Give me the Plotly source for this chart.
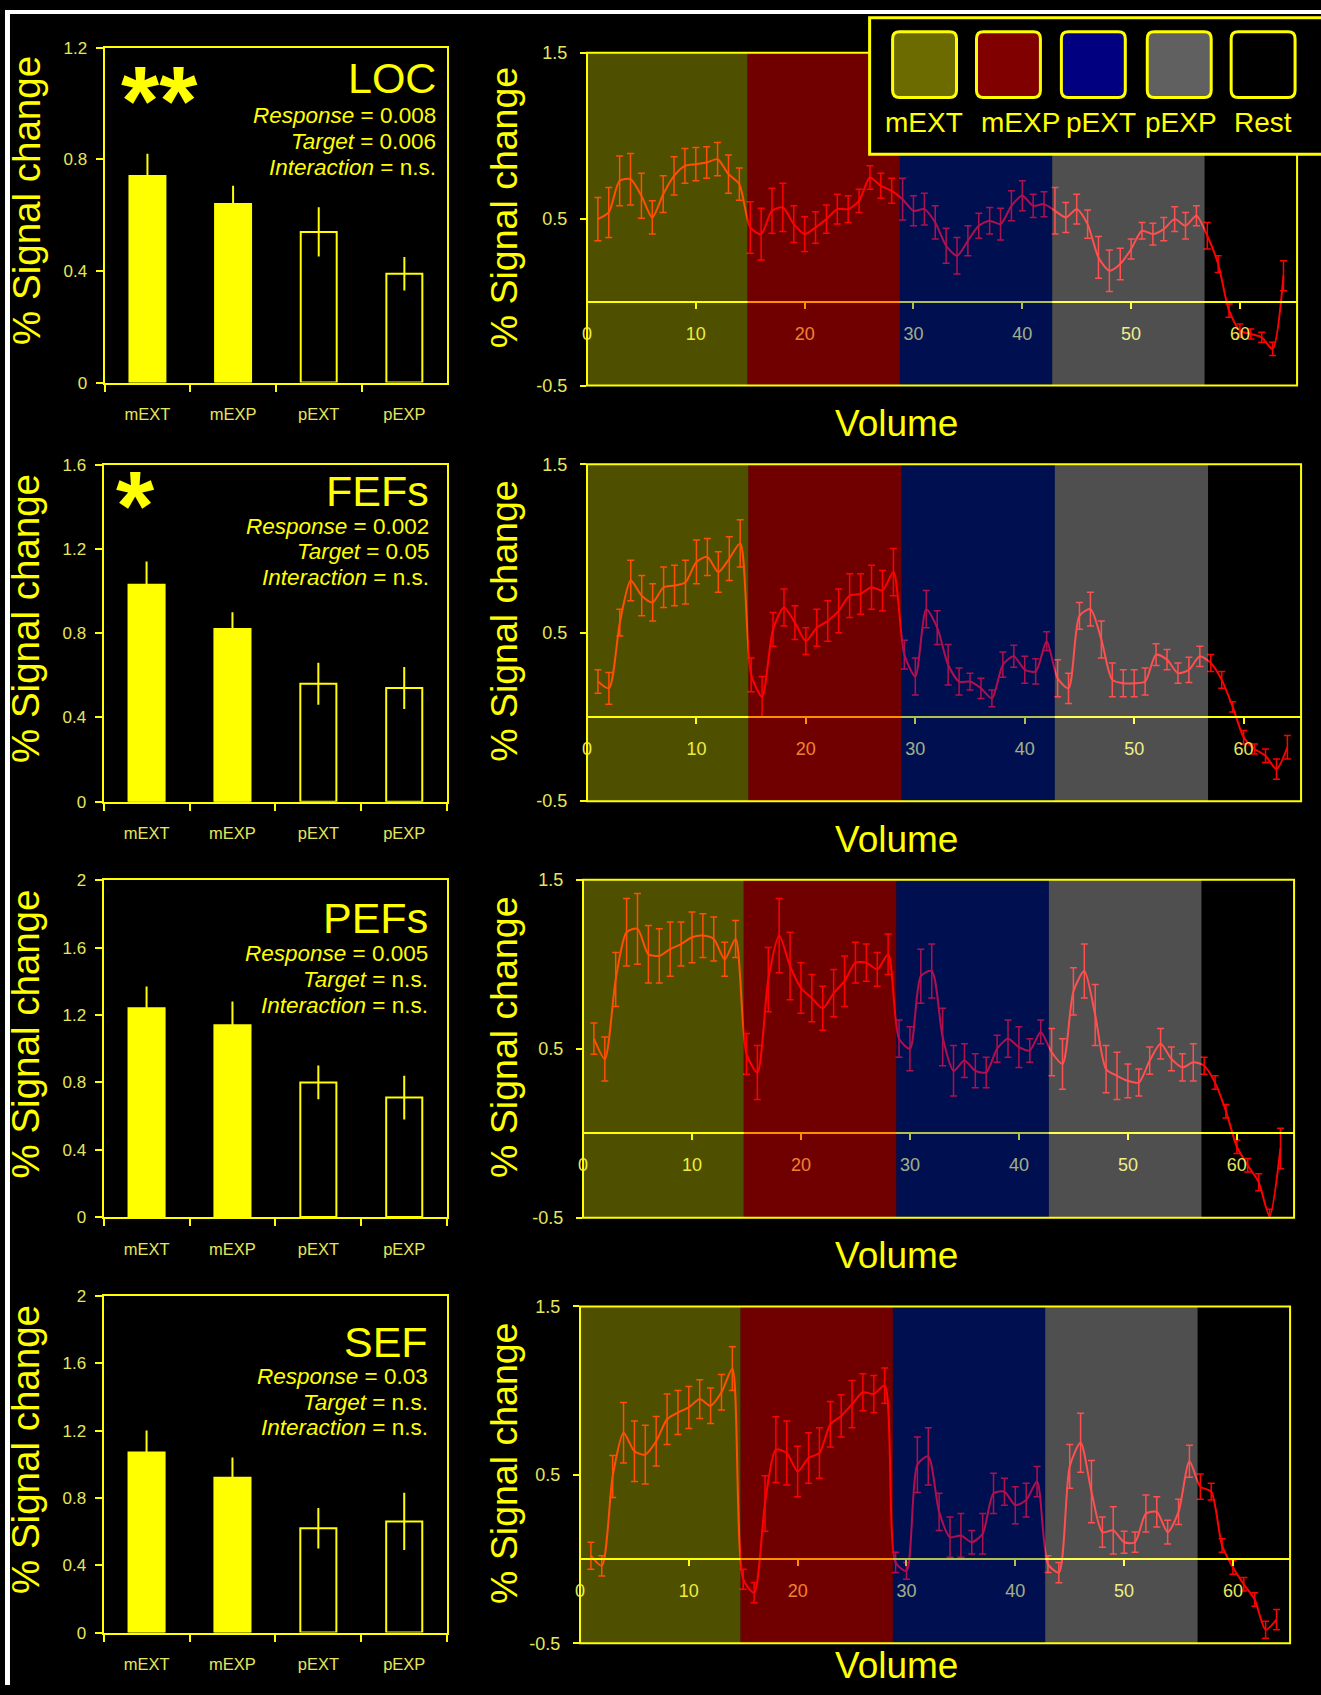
import plotly.graph_objects as go

W, H = 1321, 1695
FONT = "Liberation Sans, Arial, sans-serif"
YEL = "#FFFF00"
TICK_YEL = "#E6E65A"

# ---------------- data ----------------
categories = ["mEXT", "mEXP", "pEXT", "pEXP"]
regions = ["LOC", "FEFs", "PEFs", "SEF"]

loc_bar = [0.74, 0.64, 0.54, 0.39]
loc_bar_err = [0.08, 0.065, 0.088, 0.06]
fef_bar = [1.03, 0.82, 0.56, 0.54]
fef_bar_err = [0.11, 0.08, 0.10, 0.10]
pef_bar = [1.24, 1.14, 0.80, 0.71]
pef_bar_err = [0.13, 0.14, 0.10, 0.13]
sef_bar = [1.07, 0.92, 0.62, 0.66]
sef_bar_err = [0.13, 0.12, 0.12, 0.17]
bar_ymax = [1.2, 1.6, 2.0, 2.0]

stars = ["**", "*", "", ""]
response_p = ["0.008", "0.002", "0.005", "0.03"]
target_p = ["0.006", "0.05", "n.s.", "n.s."]
interaction_p = ["n.s.", "n.s.", "n.s.", "n.s."]

volumes = list(range(1, 65))
block_names = ["mEXT", "mEXP", "pEXT", "pEXP", "Rest"]
block_edges = [0, 14.75, 28.75, 42.75, 56.75]
ts_ytick_vals = [-0.5, 0.5, 1.5]
ts_ytick_text = ["-0.5", "0.5", "1.5"]

loc_ts = [0.50, 0.54, 0.73, 0.74, 0.64, 0.51, 0.65, 0.76, 0.82, 0.83, 0.84, 0.86, 0.77, 0.71,
          0.45, 0.41, 0.55, 0.57, 0.47, 0.41, 0.45, 0.50, 0.56, 0.56, 0.61, 0.75, 0.70, 0.67,
          0.62, 0.55, 0.56, 0.48, 0.34, 0.28, 0.37, 0.46, 0.49, 0.47, 0.58, 0.64, 0.58, 0.59,
          0.55, 0.51, 0.56, 0.47, 0.27, 0.19, 0.23, 0.32, 0.43, 0.41, 0.44, 0.50, 0.46, 0.52,
          0.40, 0.23, -0.05, -0.17, -0.19, -0.21, -0.28, 0.16]
loc_ts_err = [0.13, 0.15, 0.15, 0.155, 0.135, 0.10, 0.11, 0.115, 0.105, 0.10, 0.095, 0.10, 0.115, 0.097,
              0.155, 0.155, 0.135, 0.145, 0.11, 0.105, 0.095, 0.085, 0.09, 0.08, 0.07, 0.07, 0.075, 0.075,
              0.125, 0.09, 0.095, 0.10, 0.105, 0.11, 0.09, 0.075, 0.08, 0.095, 0.09, 0.09, 0.07, 0.075,
              0.14, 0.09, 0.09, 0.085, 0.125, 0.125, 0.095, 0.06, 0.05, 0.065, 0.07, 0.075, 0.08, 0.06,
              0.08, 0.05, 0.04, 0.04, 0.03, 0.03, 0.04, 0.09]

fef_ts = [0.21, 0.17, 0.56, 0.81, 0.72, 0.68, 0.77, 0.78, 0.80, 0.92, 0.95, 0.86, 0.94, 1.03,
          0.25, 0.12, 0.52, 0.65, 0.56, 0.45, 0.53, 0.57, 0.63, 0.72, 0.73, 0.77, 0.75, 0.86,
          0.37, 0.24, 0.64, 0.53, 0.31, 0.21, 0.21, 0.17, 0.11, 0.31, 0.36, 0.28, 0.27, 0.45,
          0.23, 0.17, 0.60, 0.64, 0.46, 0.22, 0.20, 0.20, 0.21, 0.37, 0.34, 0.26, 0.28, 0.36,
          0.32, 0.22, 0.06, -0.12, -0.19, -0.23, -0.31, -0.18]
fef_ts_err = [0.07, 0.094, 0.08, 0.12, 0.12, 0.11, 0.12, 0.12, 0.13, 0.13, 0.11, 0.12, 0.13, 0.14,
              0.10, 0.12, 0.10, 0.11, 0.10, 0.08, 0.11, 0.12, 0.13, 0.13, 0.12, 0.13, 0.12, 0.14,
              0.085, 0.11, 0.11, 0.10, 0.12, 0.08, 0.05, 0.06, 0.05, 0.075, 0.065, 0.08, 0.075, 0.055,
              0.11, 0.09, 0.08, 0.10, 0.11, 0.10, 0.08, 0.08, 0.08, 0.065, 0.06, 0.06, 0.075, 0.06,
              0.05, 0.05, 0.03, 0.04, 0.03, 0.04, 0.06, 0.07]

pef_ts = [0.56, 0.44, 0.91, 1.19, 1.21, 1.06, 1.05, 1.09, 1.12, 1.16, 1.17, 1.15, 1.03, 1.15,
          0.47, 0.36, 0.91, 1.17, 0.99, 0.86, 0.80, 0.74, 0.83, 0.90, 1.01, 1.01, 0.97, 1.06,
          0.56, 0.50, 0.93, 0.96, 0.57, 0.37, 0.43, 0.37, 0.36, 0.50, 0.56, 0.51, 0.49, 0.60,
          0.48, 0.41, 0.84, 0.96, 0.70, 0.38, 0.34, 0.31, 0.30, 0.43, 0.53, 0.44, 0.39, 0.42,
          0.40, 0.30, 0.13, -0.08, -0.19, -0.29, -0.49, -0.09]
pef_ts_err = [0.093, 0.13, 0.16, 0.20, 0.21, 0.17, 0.16, 0.16, 0.13, 0.15, 0.13, 0.13, 0.10, 0.11,
              0.12, 0.16, 0.19, 0.22, 0.20, 0.15, 0.14, 0.13, 0.14, 0.15, 0.12, 0.11, 0.10, 0.12,
              0.11, 0.13, 0.16, 0.16, 0.17, 0.15, 0.10, 0.10, 0.09, 0.08, 0.11, 0.12, 0.07, 0.07,
              0.14, 0.15, 0.14, 0.16, 0.18, 0.14, 0.14, 0.10, 0.08, 0.08, 0.09, 0.07, 0.08, 0.11,
              0.05, 0.04, 0.04, 0.04, 0.04, 0.05, 0.04, 0.12]

sef_ts = [0.02, -0.04, 0.49, 0.75, 0.64, 0.62, 0.70, 0.83, 0.87, 0.90, 0.95, 0.91, 0.99, 1.13,
          -0.12, -0.20, 0.33, 0.65, 0.63, 0.52, 0.60, 0.63, 0.80, 0.85, 0.92, 0.99, 0.98, 1.03,
          -0.02, -0.07, 0.56, 0.61, 0.28, 0.13, 0.14, 0.10, 0.15, 0.39, 0.40, 0.32, 0.35, 0.46,
          -0.03, -0.08, 0.55, 0.69, 0.40, 0.16, 0.17, 0.10, 0.10, 0.27, 0.28, 0.16, 0.28, 0.58,
          0.43, 0.40, 0.08, -0.05, -0.15, -0.24, -0.42, -0.36]
sef_ts_err = [0.08, 0.06, 0.125, 0.18, 0.18, 0.175, 0.147, 0.15, 0.13, 0.125, 0.115, 0.105, 0.105, 0.13,
              0.06, 0.06, 0.165, 0.195, 0.19, 0.15, 0.15, 0.15, 0.135, 0.125, 0.14, 0.11, 0.11, 0.105,
              0.06, 0.05, 0.165, 0.17, 0.11, 0.12, 0.13, 0.07, 0.12, 0.12, 0.08, 0.11, 0.10, 0.09,
              0.05, 0.06, 0.13, 0.175, 0.185, 0.09, 0.14, 0.065, 0.06, 0.11, 0.09, 0.07, 0.075, 0.095,
              0.075, 0.05, 0.04, 0.04, 0.04, 0.04, 0.05, 0.06]

bars = [loc_bar, fef_bar, pef_bar, sef_bar]
bar_errs = [loc_bar_err, fef_bar_err, pef_bar_err, sef_bar_err]
ts = [loc_ts, fef_ts, pef_ts, sef_ts]
ts_errs = [loc_ts_err, fef_ts_err, pef_ts_err, sef_ts_err]

# ---------------- styling / layout ----------------
band_colors = ["rgba(255,255,0,0.31)", "rgba(255,0,0,0.44)",
               "rgba(0,50,255,0.31)", "rgba(255,255,255,0.31)"]
legend_colors = ["#6B6B00", "#800000", "#000080", "#606060", "#000000"]

# pixel boxes in page pixels (left, right, top, bottom)
bar_boxes = [(104, 447, 45, 381), (103, 447, 463.5, 801.5),
             (103, 447, 880.5, 1218.4), (103, 447, 1297.4, 1635.3)]
ts_boxes = [(587, 1298, 50, 384), (587, 1302, 463, 801),
            (583, 1295, 880, 1219), (580, 1291, 1308, 1646)]
TS_YR = [-0.5, 1.5]
TS_XR = [0, 65.25]

text_right = [438, 431, 430, 430]
title_y = [75, 490, 918, 1344]
line_y0 = [113, 525, 954, 1378]
star_pos = [(159, 98), (135, 505)]
leg_left = [893, 977, 1062, 1148, 1232]
leg_label_x = [924, 1021, 1102, 1182, 1264]


def cx(x):
    # small horizontal placement correction
    return x - 4 + (x - 104) * 0.0025


def cy(y):
    # small vertical placement correction
    return 850 + (y - 850) * 1.0085


def px(x):
    return cx(x) / W


def py(y):
    return 1 - cy(y) / H


fig = go.Figure()
layout = dict(
    width=W, height=H, autosize=False,
    margin=dict(l=0, r=0, t=0, b=0),
    paper_bgcolor="black", plot_bgcolor="black",
    showlegend=False,
    font=dict(family=FONT, color=YEL),
)
shapes = []
annotations = []

for i in range(4):
    bxn, byn = 2 * i + 1, 2 * i + 2
    # ---- bar chart ----
    fig.add_trace(go.Bar(
        x=categories, y=bars[i], width=0.42,
        marker=dict(color=[YEL, YEL, "#000000", "#000000"], line=dict(color=YEL, width=2)),
        error_y=dict(type="data", array=bar_errs[i], color=YEL, thickness=2, width=0),
        xaxis=f"x{bxn}", yaxis=f"y{bxn}",
    ))
    l, r, t, b = bar_boxes[i]
    layout[f"xaxis{bxn}"] = dict(
        domain=[px(l), px(r)], anchor=f"y{bxn}", type="category", range=[-0.5, 3.5],
        showline=True, mirror=True, linecolor=YEL, linewidth=2,
        ticks="outside", tickson="boundaries", ticklen=7, tickwidth=2, tickcolor=YEL,
        tickfont=dict(size=16.5, color=TICK_YEL, family=FONT), ticklabelstandoff=16,
        showgrid=False, zeroline=False,
    )
    layout[f"yaxis{bxn}"] = dict(
        domain=[py(b), py(t)], anchor=f"x{bxn}", range=[0, bar_ymax[i]], tick0=0, dtick=0.4,
        showline=True, mirror=True, linecolor=YEL, linewidth=2,
        ticks="outside", ticklen=7, tickwidth=2, tickcolor=YEL,
        tickfont=dict(size=17, color=TICK_YEL, family=FONT), ticklabelstandoff=5,
        showgrid=False, zeroline=False,
    )
    annotations.append(dict(
        x=px(25), y=py((t + b) / 2 - 15), xref="paper", yref="paper",
        text="% Signal change", textangle=-90, showarrow=False,
        font=dict(size=38.5, color=YEL, family=FONT), xanchor="center", yanchor="middle"))
    # region label and statistics
    xr = px(text_right[i])
    annotations.append(dict(x=xr, y=py(title_y[i]), xref="paper", yref="paper",
                            text=regions[i], showarrow=False, xanchor="right", yanchor="middle",
                            font=dict(size=43, color=YEL, family=FONT)))
    stat_lines = [f"<i>Response</i> = {response_p[i]}",
                  f"<i>Target</i> = {target_p[i]}",
                  f"<i>Interaction</i> = {interaction_p[i]}"]
    for k, s in enumerate(stat_lines):
        annotations.append(dict(x=xr, y=py(line_y0[i] + 26 * k), xref="paper", yref="paper",
                                text=s, showarrow=False, xanchor="right", yanchor="middle",
                                font=dict(size=22.5, color=YEL, family=FONT)))
    if stars[i]:
        sx, sy = star_pos[i]
        annotations.append(dict(x=px(sx), y=py(sy), xref="paper", yref="paper",
                                text=f"<b>{stars[i]}</b>", showarrow=False,
                                xanchor="center", yanchor="middle",
                                font=dict(size=98, color=YEL, family=FONT)))

    # ---- time series ----
    l, r, t, b = ts_boxes[i]
    fig.add_trace(go.Scatter(
        x=volumes, y=ts[i], mode="lines",
        line=dict(color="#FF0000", width=2, shape="spline", smoothing=0.7),
        error_y=dict(type="data", array=ts_errs[i], color="#FF0000", thickness=1.5, width=3.5),
        xaxis=f"x{byn}", yaxis=f"y{byn}",
    ))
    zero_px = t + (b - t) * (TS_YR[1] - 0) / (TS_YR[1] - TS_YR[0])
    layout[f"xaxis{byn}"] = dict(
        domain=[px(l), px(r)], anchor="free", position=py(zero_px), range=TS_XR,
        tick0=0, dtick=10, showline=True, linecolor=YEL, linewidth=2,
        ticks="outside", ticklen=6, tickwidth=2, tickcolor=YEL,
        tickfont=dict(size=18, color=TICK_YEL, family=FONT), ticklabelstandoff=9,
        showgrid=False, zeroline=False,
    )
    layout[f"yaxis{byn}"] = dict(
        domain=[py(b), py(t)], anchor=f"x{byn}", range=TS_YR,
        tickmode="array", tickvals=ts_ytick_vals, ticktext=ts_ytick_text,
        showline=False, ticks="outside", ticklen=6, tickwidth=2, tickcolor=YEL,
        tickfont=dict(size=18, color=TICK_YEL, family=FONT), ticklabelstandoff=9,
        showgrid=False, zeroline=False,
    )
    for j in range(4):
        shapes.append(dict(type="rect", xref=f"x{byn}", yref=f"y{byn} domain",
                           x0=block_edges[j], x1=block_edges[j + 1], y0=0, y1=1,
                           fillcolor=band_colors[j], line=dict(width=0), layer="above"))
    shapes.append(dict(type="rect", xref=f"x{byn} domain", yref=f"y{byn} domain",
                       x0=0, x1=1, y0=0, y1=1, line=dict(color=YEL, width=2),
                       fillcolor="rgba(0,0,0,0)", layer="above"))
    annotations.append(dict(
        x=px(504), y=py((t + b) / 2 - 11), xref="paper", yref="paper",
        text="% Signal change", textangle=-90, showarrow=False,
        font=dict(size=37.5, color=YEL, family=FONT), xanchor="center", yanchor="middle"))
    vol_y = min(b + 38, 1668)
    annotations.append(dict(
        x=px(897), y=py(vol_y), xref="paper", yref="paper",
        text="Volume", showarrow=False,
        font=dict(size=37, color=YEL, family=FONT), xanchor="center", yanchor="middle"))

# ---------------- legend (drawn box) ----------------
shapes.append(dict(type="rect", xref="paper", yref="paper",
                   x0=px(870), x1=1.01, y0=py(152), y1=py(15),
                   fillcolor="black", line=dict(color=YEL, width=3), layer="above"))


def rounded_path(x0, y0, x1, y1, rr):
    pts = [("M", x0 + rr, y0), ("L", x1 - rr, y0), ("Q", x1, y0, x1, y0 + rr),
           ("L", x1, y1 - rr), ("Q", x1, y1, x1 - rr, y1), ("L", x0 + rr, y1),
           ("Q", x0, y1, x0, y1 - rr), ("L", x0, y0 + rr), ("Q", x0, y0, x0 + rr, y0)]
    out = []
    for p in pts:
        cmd = p[0]
        coords = p[1:]
        cs = []
        for k in range(0, len(coords), 2):
            cs.append(f"{px(coords[k]):.5f},{py(coords[k + 1]):.5f}")
        out.append(cmd + " " + " ".join(cs))
    return " ".join(out) + " Z"


for j, name in enumerate(block_names):
    x0 = leg_left[j]
    shapes.append(dict(type="path", xref="paper", yref="paper",
                       path=rounded_path(x0, 29, x0 + 64, 95, 7),
                       fillcolor=legend_colors[j], line=dict(color=YEL, width=3), layer="above"))
    annotations.append(dict(x=px(leg_label_x[j]), y=py(120), xref="paper", yref="paper",
                            text=name, showarrow=False, xanchor="center", yanchor="middle",
                            font=dict(size=28, color=YEL, family=FONT)))

# thin white frame strips at the top and left edge of the original picture
shapes.append(dict(type="rect", xref="paper", yref="paper", x0=0, x1=1, y0=1 - 4 / H, y1=1,
                   fillcolor="white", line=dict(width=0), layer="above"))
shapes.append(dict(type="rect", xref="paper", yref="paper", x0=0, x1=5 / W, y0=0, y1=1,
                   fillcolor="white", line=dict(width=0), layer="above"))

layout["shapes"] = shapes
layout["annotations"] = annotations
fig.update_layout(**layout)
fig.write_html(
    "out.html",
    config={"displayModeBar": False},
    post_script=("document.body.style.margin='0';document.body.style.overflow='hidden';"
                 "document.body.style.background='black';"
                 "document.documentElement.style.background='black';"),
)
